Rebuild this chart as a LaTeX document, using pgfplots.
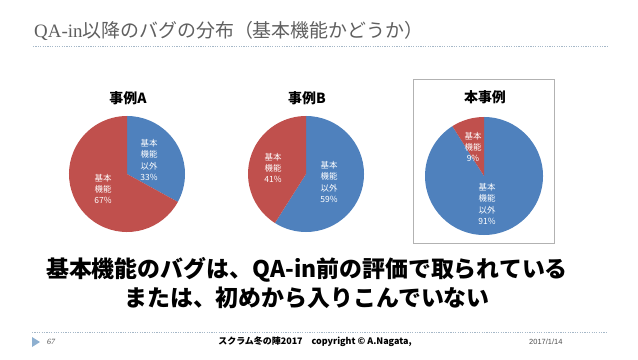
\documentclass[border=0pt]{standalone}
\usepackage{pgfplots}
\pgfplotsset{compat=1.18}
\usepackage{pgfplotstable}
\usepackage{fontspec}
\setmainfont{Liberation Sans}
\newfontfamily\jp{Noto Sans CJK JP}
\newfontfamily\serifl{Liberation Serif}
\definecolor{pieblue}{HTML}{4F81BD}
\definecolor{piered}{HTML}{C0504D}
\definecolor{titlegray}{HTML}{5F5F5F}
\definecolor{dotcol}{HTML}{A6B8C8}
\definecolor{tricol}{HTML}{8EB0D0}

% c: 0 = blue (基本機能以外), 1 = red (基本機能); r = radius (bp)
\pgfplotstableread{
x y pct cum c r
0 0 33 0 0 58
0 0 67 33 1 58
}\pieA
\pgfplotstableread{
x y pct cum c r
0 0 59 0 0 58
0 0 41 59 1 58
}\pieB
\pgfplotstableread{
x y pct cum c r
0 0 91 0 0 59
0 0 9 91 1 59
}\pieC

\pgfdeclareplotmark{pieslice}{%
  \pgfmathtruncatemacro\ci{\slicec}%
  \ifnum\ci=0 \pgfsetfillcolor{pieblue}\else\pgfsetfillcolor{piered}\fi
  \pgfpathmoveto{\pgfpointorigin}%
  \pgfpathlineto{\pgfpointpolar{\startang}{\pieR bp}}%
  \pgfpatharc{\startang}{\endang}{\pieR bp}%
  \pgfpathclose
  \pgfusepath{fill}}

\pgfplotsset{
  pieaxis/.style={anchor=center, x=1bp, y=1bp, xmin=-60, xmax=60, ymin=-60, ymax=60,
    hide axis, clip=false, scale only axis},
  pieplot/.style={scatter, only marks, mark=pieslice,
    point meta min=0, point meta max=1,
    visualization depends on={90-3.6*\thisrow{cum} \as \startang},
    visualization depends on={90-3.6*(\thisrow{cum}+\thisrow{pct}) \as \endang},
    visualization depends on={\thisrow{c} \as \slicec},
    visualization depends on={\thisrow{r} \as \pieR},
    scatter/@pre marker code/.code={},
    scatter/@post marker code/.code={}
  }
}

\begin{document}
\begin{tikzpicture}[x=1bp,y=1bp]
\useasboundingbox (0,0) rectangle (638,359);
\fill[white] (0,0) rectangle (638,359);

% title
\node[anchor=west, inner sep=0, text=titlegray, font=\jp\fontsize{19}{21}\selectfont] at (34,359-31)
  {{\serifl QA-in}以降のバグの分布（基本機能かどうか）};
\draw[dotcol, line width=0.6, dash pattern=on 1.2 off 1.2] (33,359-46) -- (608,359-46);

% box of third pie
\draw[black!30, line width=0.7] (413,359-79) rectangle (554,359-243);

% pies
\begin{axis}[pieaxis, at={(127bp,185bp)}]
\addplot[pieplot] table {\pieA};
\end{axis}
\begin{axis}[pieaxis, at={(306bp,185bp)}]
\addplot[pieplot] table {\pieB};
\end{axis}
\begin{axis}[pieaxis, at={(484bp,183bp)}]
\addplot[pieplot] table {\pieC};
\end{axis}

% pie titles
\begin{scope}[every node/.style={font=\jp\bfseries\fontsize{14}{15}\selectfont, inner sep=0}]
\node at (128,359-98) {事例A};
\node at (307,359-98) {事例B};
\node at (485,359-97) {本事例};
\end{scope}

% slice labels
\begin{scope}[every node/.style={text=white, align=center, inner sep=0, font=\jp\fontsize{8.5}{11.5}\selectfont}]
\node at (149,359-160) {基本\\機能\\以外\\33\%};
\node at (103,359-189) {基本\\機能\\67\%};
\node at (273,359-168) {基本\\機能\\41\%};
\node at (329,359-182) {基本\\機能\\以外\\59\%};
\node at (473,359-147) {基本\\機能\\9\%};
\node at (487,359-204) {基本\\機能\\以外\\91\%};
\end{scope}

% message
\node[align=center, inner sep=0, font=\jp\bfseries\fontsize{23}{29}\selectfont] at (307,359-283)
  {基本機能のバグは、QA-in前の評価で取られている\\または、初めから入りこんでいない};

% footer
\draw[dotcol, line width=0.6, dash pattern=on 1.2 off 1.2] (32,359-332) -- (606,359-332);
\fill[tricol] (32,359-337) -- (40,359-342) -- (32,359-347) -- cycle;
\node[anchor=west, inner sep=0, text=black!70, font=\serifl\itshape\fontsize{8}{9}\selectfont] at (47,359-342) {67};
\node[inner sep=0, font=\jp\bfseries\fontsize{9}{10}\selectfont] at (315,359-342)
  {スクラム冬の陣2017\quad copyright © A.Nagata,};
\node[anchor=west, inner sep=0, text=black!70, font=\fontsize{7.5}{9}\selectfont] at (529,359-342) {2017/1/14};
\end{tikzpicture}
\end{document}
